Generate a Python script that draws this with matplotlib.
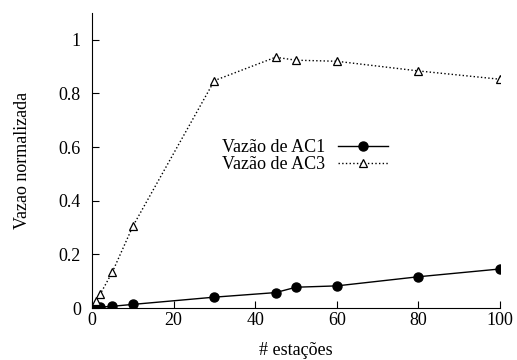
import matplotlib
matplotlib.use('Agg')
import matplotlib.pyplot as plt

plt.rcParams['font.family'] = ['Liberation Serif', 'DejaVu Serif']
plt.rcParams['font.size'] = 13

# stations count and normalized throughput
x_ac1 = [1, 2, 5, 10, 30, 45, 50, 60, 80, 100]
y_ac1 = [0.002, 0.004, 0.007, 0.014, 0.041, 0.058, 0.078, 0.083, 0.117, 0.146]

x_ac3 = [1, 2, 5, 10, 30, 45, 50, 60, 80, 100]
y_ac3 = [0.025, 0.052, 0.135, 0.305, 0.848, 0.935, 0.924, 0.92, 0.884, 0.853]

xticks = [0, 20, 40, 60, 80, 100]
yticks = [0, 0.2, 0.4, 0.6, 0.8, 1]
ylabels = ['0', '0.2', '0.4', '0.6', '0.8', '1']

fig = plt.figure(figsize=(5.17, 3.6), dpi=100)
ax = fig.add_axes([0.178, 0.144, 0.789, 0.82])

ax.plot(x_ac1, y_ac1, color='black', linestyle='-', linewidth=1,
        marker='o', markersize=6.5, markerfacecolor='black',
        label='Vazão de AC1')
ax.plot(x_ac3, y_ac3, color='black', linestyle=':', linewidth=1,
        marker='^', markersize=6, markerfacecolor='white',
        markeredgewidth=0.9, label='Vazão de AC3')

ax.set_xlim(0, 100)
ax.set_ylim(0, 1.1)
ax.set_xticks(xticks)
ax.set_yticks(yticks)
ax.set_yticklabels(ylabels)
ax.tick_params(direction='in', length=5, width=0.8)
ax.tick_params(axis='x', pad=3)
ax.tick_params(axis='y', pad=8)
ax.spines['top'].set_visible(False)
ax.spines['right'].set_visible(False)

ax.set_xlabel('# estações', labelpad=9)
ax.set_ylabel('Vazao normalizada', labelpad=20)

ax.legend(loc='upper right', bbox_to_anchor=(0.751, 0.613),
          bbox_transform=fig.transFigure, frameon=False,
          markerfirst=False, handlelength=2.8, labelspacing=0.0,
          handletextpad=0.7, borderpad=0, borderaxespad=0)

fig.savefig('out.png', dpi=100)
